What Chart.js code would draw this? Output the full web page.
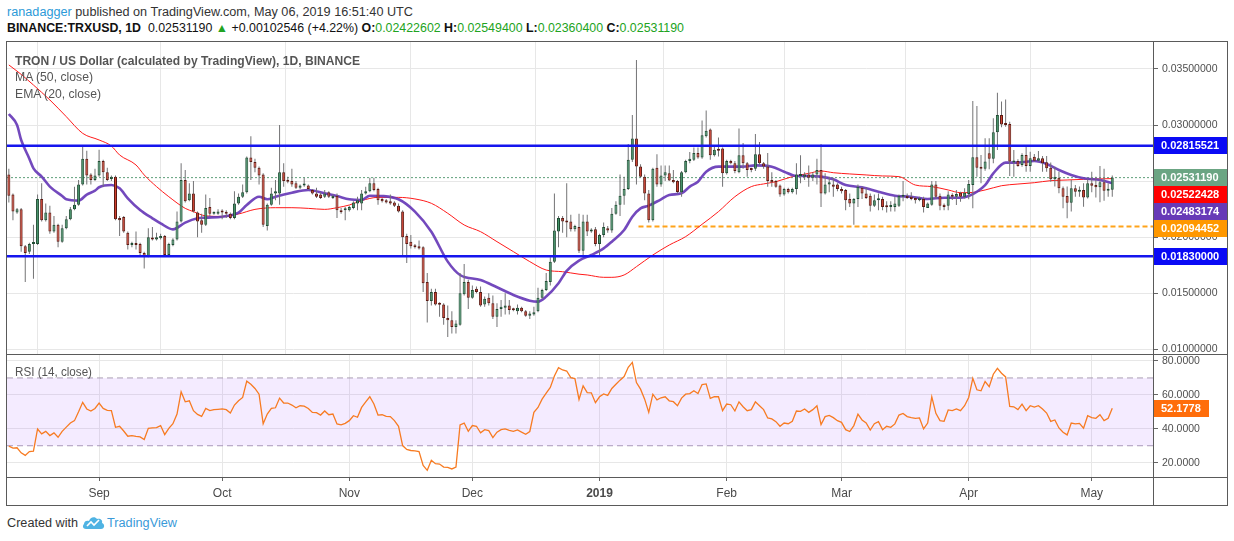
<!DOCTYPE html>
<html>
<head>
<meta charset="utf-8">
<script src="https://cdn.jsdelivr.net/npm/chart.js@4.4.0/dist/chart.umd.min.js"></script>
<style>
  html, body { margin: 0; padding: 0; background: #fff; }
  body { width: 1234px; height: 541px; position: relative; overflow: hidden; font-family: "Liberation Sans", Arial, sans-serif; }
  .txt { position: absolute; white-space: nowrap; display: inline-block; transform-origin: left center; }
  .line { position: absolute; background: #5a5a5a; }
  canvas { position: absolute; }
  .g { color: #21a321; }
</style>
</head>
<body>
<div id="hdr1" class="txt" style="left:7px; top:5px; font-size:12px; color:#333;"><span style="color:#2c9ad8">ranadagger</span> published on TradingView.com, May 06, 2019 16:51:40 UTC</div>
<div id="hdr2" class="txt" style="left:7px; top:21px; font-size:12px; color:#111;"><b>BINANCE:TRXUSD, 1D</b>&nbsp; 0.02531190 <span class="g">&#9650;</span> +0.00102546 (+4.22%) <b>O:</b><span class="g">0.02422602</span> <b>H:</b><span class="g">0.02549400</span> <b>L:</b><span class="g">0.02360400</span> <b>C:</b><span class="g">0.02531190</span></div>

<canvas id="price" width="1220" height="313" style="left:7px; top:41px;"></canvas>
<canvas id="rsi" width="1220" height="151" style="left:7px; top:354px;"></canvas>

<div id="lg1" class="txt" style="left:15px; top:53px; font-size:13px; font-weight:bold; color:#555;">TRON / US Dollar (calculated by TradingView), 1D, BINANCE</div>
<div id="lg2" class="txt" style="left:15px; top:70px; font-size:12px; color:#555;">MA (50, close)</div>
<div id="lg3" class="txt" style="left:15px; top:87px; font-size:12px; color:#555;">EMA (20, close)</div>
<div id="lg4" class="txt" style="left:15px; top:365px; font-size:12px; color:#555;">RSI (14, close)</div>

<div class="line" style="left:6px; top:41px; width:1222px; height:1px;"></div>
<div class="line" style="left:6px; top:354px; width:1222px; height:1px;"></div>
<div class="line" style="left:6px; top:477px; width:1222px; height:1px;"></div>
<div class="line" style="left:6px; top:505px; width:1222px; height:1px;"></div>
<div class="line" style="left:6px; top:41px; width:1px; height:465px;"></div>
<div class="line" style="left:1227px; top:41px; width:1px; height:465px;"></div>
<div class="line" style="left:1153px; top:41px; width:1px; height:465px;"></div>

<div id="made" class="txt" style="left:7px; top:516px; font-size:12px; color:#333;">Created with</div>
<svg style="position:absolute; left:82px; top:514px;" width="24" height="17" viewBox="0 0 24 17">
  <path d="M4 15 C1 15 0 12 2 10 C2 7 5 6 7 7 C8 3 13 2 15 5 C18 4 21 6 20 9 C23 10 23 15 19 15 Z" fill="#4fb3e3"/>
  <path d="M5 12 L9 8 L12 11 L17 6" stroke="#fff" stroke-width="1.6" fill="none"/>
</svg>
<div id="tvname" class="txt" style="left:107px; top:516px; font-size:12px; color:#3a9ad9;">TradingView</div>

<script>
// ---- data ----
// day index 0 = 2018-08-10, one candle per day up to 2019-05-06 (index 269)
const opens = [
  0.0256,0.0238,0.0222,0.0225,0.0192,0.0187,0.0194,0.0194,0.0234,0.0215,
  0.0222,0.0205,0.0211,0.0196,0.0208,0.0216,0.0225,0.0229,0.0247,0.0270,
  0.0256,0.0251,0.0255,0.0268,0.0258,0.0252,0.0254,0.0217,0.0218,0.0204,
  0.0193,0.0194,0.0194,0.0186,0.0183,0.0199,0.0198,0.0199,0.0201,0.0184,
  0.0193,0.0198,0.0214,0.0251,0.0233,0.0239,0.0222,0.0215,0.0211,0.0227,
  0.0221,0.0221,0.0223,0.0222,0.0221,0.0217,0.0230,0.0236,0.0240,0.0271,
  0.0267,0.0262,0.0256,0.0210,0.0229,0.0239,0.0239,0.0258,0.0251,0.0250,
  0.0248,0.0244,0.0246,0.0246,0.0242,0.0239,0.0238,0.0236,0.0240,0.0235,
  0.0237,0.0223,0.0224,0.0224,0.0226,0.0230,0.0230,0.0239,0.0241,0.0248,
  0.0243,0.0234,0.0233,0.0232,0.0231,0.0228,0.0223,0.0201,0.0196,0.0192,
  0.0192,0.0191,0.0160,0.0143,0.0151,0.0141,0.0140,0.0128,0.0126,0.0120,
  0.0122,0.0149,0.0160,0.0146,0.0154,0.0151,0.0140,0.0146,0.0141,0.0129,
  0.0136,0.0137,0.0139,0.0136,0.0134,0.0137,0.0134,0.0130,0.0131,0.0134,
  0.0146,0.0153,0.0160,0.0178,0.0205,0.0217,0.0214,0.0214,0.0207,0.0209,
  0.0188,0.0214,0.0205,0.0207,0.0194,0.0202,0.0208,0.0206,0.0221,0.0229,
  0.0237,0.0243,0.0269,0.0288,0.0263,0.0254,0.0239,0.0215,0.0262,0.0247,
  0.0255,0.0257,0.0251,0.0250,0.0240,0.0258,0.0268,0.0269,0.0275,0.0271,
  0.0290,0.0296,0.0273,0.0278,0.0279,0.0257,0.0268,0.0266,0.0258,0.0273,
  0.0266,0.02608,0.0261,0.0274,0.0266,0.0263,0.0251,0.0250,0.0246,0.0238,
  0.0243,0.0240,0.0243,0.02546,0.0254,0.0256,0.0253,0.0256,0.0260,0.0239,
  0.0247,0.0247,0.0247,0.0243,0.0242,0.0234,0.0230,0.0234,0.0244,0.0239,
  0.0237,0.0228,0.0233,0.0234,0.02278,0.0227,0.0227,0.0228,0.02361,0.0237,
  0.0236,0.0235,0.0233,0.0234,0.0226,0.0229,0.0247,0.0237,0.0229,0.0228,
  0.02376,0.02361,0.02397,0.02361,0.02385,0.02465,0.02712,0.02629,0.02611,0.02748,
  0.02700,0.02935,0.03090,0.03009,0.03009,0.02665,0.02679,0.02644,0.02733,0.02635,
  0.02718,0.02682,0.02703,0.02668,0.02620,0.02516,0.02531,0.02436,0.02367,0.02308,
  0.02436,0.02406,0.02421,0.02355,0.02480,0.02465,0.02445,0.02489,0.02415,0.02422602
];
const highs = [
  0.0261,0.0239,0.0226,0.0226,0.0193,0.0195,0.0211,0.0238,0.0248,0.0230,
  0.0228,0.0219,0.0212,0.0211,0.0219,0.0227,0.0245,0.0251,0.0281,0.0277,
  0.0257,0.0261,0.0278,0.0269,0.0262,0.0255,0.0255,0.0219,0.0219,0.0205,
  0.0196,0.0205,0.0195,0.0187,0.0208,0.0209,0.0204,0.0203,0.0202,0.0195,
  0.0199,0.0223,0.0266,0.0260,0.0248,0.0250,0.0223,0.0221,0.0238,0.0235,
  0.0223,0.0225,0.0225,0.0224,0.0222,0.0241,0.0239,0.0247,0.0272,0.0290,
  0.0270,0.0263,0.0257,0.0230,0.0244,0.0251,0.0300,0.0266,0.0254,0.0261,
  0.0250,0.0247,0.0253,0.0247,0.0243,0.0244,0.0240,0.0242,0.0241,0.0238,
  0.0239,0.0226,0.0227,0.0228,0.0232,0.0236,0.0242,0.0245,0.0253,0.0253,
  0.0244,0.0235,0.0234,0.0238,0.0232,0.0230,0.0224,0.0203,0.0202,0.0194,
  0.0197,0.0192,0.0168,0.0154,0.0154,0.0142,0.0141,0.0139,0.0134,0.0126,
  0.0168,0.0176,0.0162,0.0157,0.0156,0.0156,0.0147,0.0150,0.0148,0.0141,
  0.0144,0.0150,0.0144,0.0137,0.0140,0.0138,0.0135,0.0134,0.0138,0.0155,
  0.0154,0.0168,0.0182,0.0239,0.0219,0.0219,0.0248,0.0220,0.0211,0.0221,
  0.0220,0.0220,0.0208,0.0209,0.0203,0.0213,0.0210,0.0226,0.0232,0.0256,
  0.0254,0.0283,0.0309,0.0358,0.0265,0.0256,0.0242,0.0262,0.0274,0.0264,
  0.0264,0.0264,0.0260,0.0251,0.0259,0.0269,0.0276,0.0280,0.0280,0.0304,
  0.0313,0.0297,0.0282,0.0289,0.0280,0.0269,0.0269,0.0268,0.0297,0.0284,
  0.0267,0.0262,0.0292,0.0285,0.0267,0.0275,0.0258,0.0251,0.0247,0.0244,
  0.0244,0.0244,0.0266,0.0273,0.0258,0.0264,0.0258,0.0270,0.0283,0.0257,
  0.0254,0.0253,0.0248,0.0245,0.0243,0.0239,0.0235,0.0247,0.0245,0.0244,
  0.0239,0.0238,0.0239,0.0236,0.0232,0.0232,0.0236,0.0238,0.0250,0.0239,
  0.0240,0.0236,0.0236,0.0236,0.0231,0.0250,0.0250,0.0239,0.0230,0.0241,
  0.02391,0.02421,0.02406,0.02436,0.02510,0.03215,0.03170,0.02733,0.02882,0.02882,
  0.03060,0.03289,0.03209,0.03229,0.03030,0.02778,0.02694,0.02748,0.02807,0.02763,
  0.02742,0.02769,0.02724,0.02724,0.02665,0.02629,0.02584,0.02451,0.02451,0.02510,
  0.02465,0.02451,0.02480,0.02516,0.02584,0.02540,0.02635,0.02611,0.02480,0.02549400
];
const lows = [
  0.0231,0.0215,0.0221,0.0187,0.0160,0.0185,0.0163,0.0193,0.0214,0.0214,
  0.0203,0.0204,0.0191,0.0195,0.0207,0.0215,0.0224,0.0228,0.0246,0.0247,
  0.0247,0.0250,0.0254,0.0245,0.0250,0.0250,0.0215,0.0201,0.0204,0.0189,
  0.0191,0.0189,0.0183,0.0172,0.0182,0.0197,0.0197,0.0198,0.0183,0.0183,
  0.0192,0.0197,0.0213,0.0231,0.0232,0.0222,0.0200,0.0204,0.0210,0.0219,
  0.0220,0.0220,0.0216,0.0217,0.0216,0.0216,0.0229,0.0235,0.0239,0.0251,
  0.0258,0.0247,0.0209,0.0206,0.0228,0.0233,0.0229,0.0245,0.0248,0.0245,
  0.0243,0.0243,0.0245,0.0242,0.0238,0.0235,0.0234,0.0235,0.0235,0.0234,
  0.0217,0.0221,0.0215,0.0223,0.0225,0.0224,0.0224,0.0238,0.0240,0.0241,
  0.0229,0.0231,0.0230,0.0229,0.0227,0.0222,0.0183,0.0177,0.0190,0.0190,
  0.0189,0.0151,0.0124,0.0139,0.0139,0.0129,0.0122,0.0111,0.0114,0.0114,
  0.0121,0.0148,0.0136,0.0145,0.0150,0.0138,0.0138,0.0139,0.0127,0.0120,
  0.0129,0.0131,0.0131,0.0134,0.0131,0.0133,0.0129,0.0127,0.0130,0.0133,
  0.0145,0.0152,0.0157,0.0177,0.0191,0.0204,0.0200,0.0205,0.0205,0.0186,
  0.0182,0.0201,0.0204,0.0192,0.0183,0.0200,0.0204,0.0204,0.0220,0.0219,
  0.0229,0.0242,0.0267,0.0247,0.0253,0.0233,0.0213,0.0214,0.0245,0.0245,
  0.0250,0.0250,0.0248,0.0239,0.0236,0.0257,0.0266,0.0268,0.0270,0.0270,
  0.0289,0.0269,0.0272,0.0272,0.0245,0.0256,0.0265,0.0257,0.0257,0.0261,
  0.0254,0.0258,0.0259,0.0264,0.0261,0.0245,0.0245,0.0244,0.0236,0.0237,
  0.0239,0.0239,0.0238,0.0248,0.0251,0.0245,0.0250,0.0247,0.0227,0.0238,
  0.0240,0.0236,0.0241,0.0239,0.0224,0.0227,0.0211,0.0227,0.0234,0.0234,
  0.0223,0.0227,0.0224,0.0224,0.0222,0.0223,0.0223,0.0227,0.0232,0.0234,
  0.0233,0.0230,0.0232,0.0222,0.0226,0.0228,0.0234,0.0224,0.0224,0.0224,
  0.02332,0.02287,0.02317,0.02346,0.02338,0.02257,0.02540,0.02480,0.02593,0.02605,
  0.02659,0.02778,0.02980,0.02986,0.02546,0.02540,0.02629,0.02629,0.02584,0.02584,
  0.02674,0.02674,0.02584,0.02584,0.02495,0.02451,0.02391,0.02257,0.02168,0.02228,
  0.02361,0.02361,0.02272,0.02346,0.02400,0.02355,0.02311,0.02326,0.02361,0.02360400
];
const closes = [
  0.0237,0.0223,0.0225,0.0192,0.0186,0.0194,0.0195,0.0234,0.0215,0.0222,
  0.0205,0.0211,0.0196,0.0208,0.0216,0.0225,0.0229,0.0247,0.0270,0.0255,
  0.0251,0.0255,0.0268,0.0258,0.0251,0.0254,0.0216,0.0215,0.0205,0.0193,
  0.0194,0.0193,0.0186,0.0183,0.0200,0.0198,0.0200,0.0201,0.0184,0.0194,
  0.0198,0.0214,0.0251,0.0232,0.0239,0.0223,0.0214,0.0211,0.0226,0.0221,
  0.0222,0.0223,0.0222,0.0221,0.0217,0.0230,0.0236,0.0240,0.0271,0.0267,
  0.0262,0.0255,0.0211,0.0229,0.0239,0.0241,0.0258,0.0250,0.02495,0.0247,
  0.0244,0.0246,0.0247,0.0243,0.0239,0.0236,0.0235,0.0239,0.0236,0.0237,
  0.0224,0.02222,0.0225,0.0227,0.0231,0.0233,0.0239,0.0241,0.0248,0.0242,
  0.0233,0.0232,0.0231,0.0230,0.0228,0.0223,0.0200,0.0194,0.0192,0.0191,
  0.0190,0.0159,0.0143,0.0151,0.0140,0.01398,0.0128,0.0126,0.0120,0.0123,
  0.0150,0.0160,0.0146,0.0153,0.0151,0.0139,0.0145,0.0141,0.0129,0.0136,
  0.0138,0.0139,0.0135,0.01348,0.0137,0.0134,0.0130,0.0132,0.0133,0.0146,
  0.0153,0.0161,0.0178,0.0206,0.0217,0.0214,0.0213,0.0207,0.0210,0.0188,
  0.0214,0.0205,0.0206,0.0194,0.0202,0.0209,0.0206,0.0221,0.0229,0.0237,
  0.0243,0.0269,0.0288,0.0263,0.0254,0.0239,0.0215,0.0261,0.0247,0.0255,
  0.0258,0.02505,0.0249,0.02402,0.0258,0.0268,0.0270,0.0275,0.0271,0.0291,
  0.0295,0.0273,0.0278,0.0277,0.0257,0.0268,0.0266,0.0259,0.0273,0.0266,
  0.0260,0.02600,0.0274,0.0266,0.0263,0.0250,0.0249,0.0245,0.0238,0.0243,
  0.0240,0.0243,0.0256,0.02558,0.0256,0.0253,0.0256,0.0260,0.0239,0.0247,
  0.0249,0.0245,0.0243,0.0241,0.0233,0.0230,0.0234,0.0245,0.0239,0.0235,
  0.0228,0.0233,0.0234,0.0227,0.02266,0.0228,0.0230,0.0237,0.0237,0.0235,
  0.0234,0.0233,0.0234,0.0227,0.0230,0.0247,0.0236,0.0228,0.0227,0.0238,
  0.02361,0.02385,0.02361,0.02397,0.02474,0.02712,0.02620,0.02611,0.02674,0.02700,
  0.02935,0.03090,0.03006,0.03001,0.02674,0.02679,0.02635,0.02733,0.02635,0.02703,
  0.02682,0.02703,0.02659,0.02614,0.02516,0.02540,0.02436,0.02361,0.02308,0.02436,
  0.02406,0.02421,0.02355,0.02480,0.02459,0.02445,0.02489,0.02415,0.02429,0.02531190
];

// MA (50) and EMA (20) at these day indices
const maDays = [0,3,6,10,14,18,22,25,27,31,33,36,39,43,45,48,52,56,60,65,69,73,77,80,83,86,90,95,99,103,
  107,111,115,119,123,127,131,135,139,141,145,147,150,153,157,161,165,169,173,177,181,184,187,191,195,198,201,205,209,213,
  217,221,225,229,232,234,238,242,246,250,254,258,262,266,269];
const maValues = [0.03536,0.03452,0.03357,0.03224,0.03075,0.02926,0.02867,0.02813,0.02733,0.02644,
  0.02555,0.02451,0.02361,0.02257,0.02228,0.02190,0.02185,0.02207,0.02248,0.02263,
  0.02263,0.02257,0.02248,0.02263,0.02287,0.02326,0.02355,0.02355,0.02341,0.02302,
  0.02213,0.02109,0.02049,0.01960,0.01871,0.01782,0.01707,0.01692,0.01670,0.01663,
  0.01642,0.01642,0.01663,0.01737,0.01841,0.01930,0.02005,0.02115,0.02228,0.02361,
  0.02451,0.02475,0.02495,0.02540,0.02569,0.02590,0.02575,0.02564,0.02555,0.02546,
  0.02540,0.02465,0.02451,0.02421,0.02397,0.02397,0.02421,0.02459,0.02474,0.02486,
  0.02504,0.02510,0.02516,0.02520,0.02522428];
const emaDays = [0,2,3,5,6,8,10,13,14,17,19,21,22,25,27,29,32,35,37,40,43,46,48,52,56,58,61,63,65,69,
  73,77,80,83,86,88,91,95,99,103,107,110,115,119,123,127,129,131,134,136,139,142,145,147,150,152,154,156,159,161,
  164,166,168,170,173,176,179,182,186,189,192,195,198,201,204,208,212,216,220,224,228,232,234,238,240,243,246,250,253,256,
  259,262,266,269];
const emaValues = [0.03099,0.03000,0.02867,0.02700,0.02614,0.02540,0.02451,0.02367,0.02338,0.02326,
  0.02380,0.02415,0.02445,0.02465,0.02436,0.02346,0.02242,0.02168,0.02123,0.02070,
  0.02130,0.02168,0.02174,0.02183,0.02219,0.02287,0.02361,0.02338,0.02361,0.02397,
  0.02421,0.02391,0.02367,0.02338,0.02332,0.02370,0.02367,0.02338,0.02228,0.02049,
  0.01782,0.01663,0.01618,0.01553,0.01485,0.01434,0.01425,0.01470,0.01589,0.01700,
  0.01791,0.01841,0.01900,0.01960,0.02064,0.02183,0.02257,0.02281,0.02338,0.02376,
  0.02391,0.02451,0.02495,0.02584,0.02629,0.02629,0.02629,0.02640,0.02629,0.02584,
  0.02546,0.02546,0.02540,0.02516,0.02465,0.02445,0.02406,0.02370,0.02361,0.02341,
  0.02352,0.02352,0.02367,0.02465,0.02569,0.02665,0.02665,0.02679,0.02653,0.02599,
  0.02555,0.02525,0.02510,0.02483174];

// RSI (14), one value per candle
const rsiValues = [
  29.8,28.6,28.8,25.8,24.3,26.6,26.8,39.9,37.0,38.5,
  36.0,37.6,35.0,38.5,41.0,43.4,44.8,50.0,55.6,51.7,
  50.5,52.0,55.2,52.0,50.9,50.7,40.9,41.5,38.7,35.6,
  36.0,35.5,35.2,33.7,40.3,40.5,40.7,41.9,36.6,40.3,
  43.0,48.7,61.8,55.9,56.5,50.7,48.5,47.3,52.0,50.7,
  51.3,51.5,51.7,51.3,49.3,54.0,56.5,58.5,68.1,66.3,
  63.8,60.4,43.0,48.7,52.0,52.4,58.1,55.2,55.2,54.0,
  52.4,53.6,53.4,52.0,49.7,49.5,48.1,50.5,48.3,48.7,
  42.9,42.3,43.2,44.8,47.7,46.8,52.6,55.9,58.9,54.6,
  48.1,48.3,47.3,47.2,44.8,41.5,30.1,27.8,27.2,27.0,
  26.6,18.4,15.5,21.4,19.4,19.2,17.4,17.2,16.3,17.4,
  42.3,43.4,38.5,41.9,41.5,37.6,39.5,38.9,34.8,38.0,
  39.5,39.9,39.1,38.5,39.3,38.0,36.8,38.4,49.7,52.6,
  57.5,61.0,64.4,71.2,76.1,74.7,74.1,70.2,69.6,57.3,
  65.3,61.4,61.2,55.4,58.9,60.6,59.7,63.8,66.3,68.7,
  70.8,76.3,79.2,67.3,63.4,57.5,49.7,60.4,57.1,58.3,
  58.9,56.5,56.0,53.6,58.1,60.4,60.8,62.4,60.8,66.1,
  66.5,57.9,58.9,58.9,50.7,54.6,54.2,50.5,55.9,53.0,
  50.7,51.3,55.9,53.6,51.3,46.4,45.8,44.2,41.5,43.4,
  43.0,44.4,50.5,50.3,51.7,49.7,51.3,53.6,42.5,47.2,
  47.9,46.6,44.8,43.8,39.5,38.4,41.9,48.7,45.2,43.4,
  39.3,43.0,44.2,39.5,41.5,40.9,42.9,48.1,49.1,47.2,
  46.6,46.2,46.4,39.9,43.4,58.9,49.1,44.8,44.4,51.1,
  50.7,51.7,50.7,53.6,58.5,69.8,63.0,62.4,67.9,64.9,
  72.2,75.7,72.8,70.6,53.2,53.0,51.3,54.6,50.7,53.6,
  52.8,53.6,51.7,49.3,44.4,45.2,40.5,38.0,36.4,43.4,
  42.9,43.2,40.3,47.7,46.6,46.2,48.3,44.8,46.2,52.1778
];

const resistanceLevel = 0.02815521;
const supportLevel = 0.01830000;
const dashedLevel = 0.02094452;
const dashedFromDay = 153.5;
const rsiUpper = 70;
const rsiLower = 30;

const monthDays = [22, 52, 83, 113, 144, 175, 203, 234, 264];
const monthLabels = ['Sep', 'Oct', 'Nov', 'Dec', '2019', 'Feb', 'Mar', 'Apr', 'May'];
const priceTicks = [0.010, 0.015, 0.020, 0.025, 0.030, 0.035];
const rsiTicks = [20, 40, 60, 80];

// ---- view / style ----
const X_MIN = -0.45, X_MAX = 278.93;
const PRICE_MIN = 0.009581, PRICE_MAX = 0.037497;
const RSI_MIN = 11.56, RSI_MAX = 84.13;
const AXIS_W = 74;
const UP = '#45946a', UP_BORDER = '#1f4d33';
const DOWN = '#d13f2e', DOWN_BORDER = '#5b1a13';
const WICK = '#737375';
const GRID = '#e7e7e7';
const TICK_TEXT = '#4f4f4f';
const TICK_FONT = { family: '"Liberation Sans", Arial, sans-serif', size: 10.5 };
const LEVEL_BLUE = '#1515ee';
const RSI_COLOR = '#f77b22';

const last = closes.length - 1;
const isUp = closes.map((c, i) => c >= opens[i]);
const hLine = (y, from = X_MIN, to = X_MAX) => [{ x: from, y }, { x: to, y }];

const tagsPlugin = {
  id: 'axisTags',
  afterDraw(chart, args, opts) {
    const { ctx, chartArea } = chart;
    const yScale = chart.scales.y;
    const h = 17;
    const tags = opts.tags
      .map(t => ({ ...t, py: yScale.getPixelForValue(t.value) }))
      .sort((a, b) => a.py - b.py);
    let prevBottom = -1e9;
    ctx.save();
    ctx.font = 'bold 11px "Liberation Sans", Arial, sans-serif';
    ctx.textBaseline = 'middle';
    tags.forEach(t => {
      let top = Math.round(t.py - h / 2);
      if (top < prevBottom) top = prevBottom;
      prevBottom = top + h;
      ctx.fillStyle = t.color;
      ctx.fillRect(chartArea.right + 1, top, t.width, h);
      ctx.fillStyle = '#fff';
      ctx.fillText(t.text, chartArea.right + 8, top + h / 2 + 0.5);
    });
    ctx.restore();
  }
};

const xScaleBase = {
  type: 'linear',
  min: X_MIN,
  max: X_MAX,
  offset: false,
  afterBuildTicks: s => { s.ticks = monthDays.map(v => ({ value: v })); },
  grid: { color: GRID, lineWidth: 1 },
  border: { display: false }
};

new Chart(document.getElementById('price'), {
  type: 'bar',
  data: {
    datasets: [
      { type: 'line', data: hLine(resistanceLevel), borderColor: LEVEL_BLUE, borderWidth: 2.6, pointRadius: 0, order: 0 },
      { type: 'line', data: hLine(supportLevel), borderColor: LEVEL_BLUE, borderWidth: 2.6, pointRadius: 0, order: 0 },
      {
        type: 'bar',
        data: closes.map((c, i) => ({ x: i, y: [Math.min(opens[i], c), Math.max(opens[i], c)] })),
        backgroundColor: isUp.map(u => u ? UP : DOWN),
        borderColor: isUp.map(u => u ? UP_BORDER : DOWN_BORDER),
        borderWidth: 1,
        borderSkipped: false,
        barThickness: 3,
        minBarLength: 2,
        inflateAmount: 0,
        grouped: false,
        order: 1
      },
      {
        type: 'bar',
        data: closes.map((c, i) => ({ x: i, y: [lows[i], highs[i]] })),
        backgroundColor: WICK,
        barThickness: 1,
        inflateAmount: 0,
        grouped: false,
        order: 2
      },
      {
        type: 'line',
        data: emaDays.map((d, i) => ({ x: d, y: emaValues[i] })),
        borderColor: 'rgba(103, 58, 183, 0.92)',
        borderWidth: 2.6,
        pointRadius: 0,
        cubicInterpolationMode: 'monotone',
        order: 3
      },
      {
        type: 'line',
        data: maDays.map((d, i) => ({ x: d, y: maValues[i] })),
        borderColor: '#ff1a1a',
        borderWidth: 1,
        pointRadius: 0,
        cubicInterpolationMode: 'monotone',
        order: 4
      },
      { type: 'line', data: hLine(dashedLevel, dashedFromDay), borderColor: '#ffa31a', borderDash: [5, 3], borderWidth: 2, pointRadius: 0, order: 5 },
      { type: 'line', data: hLine(closes[last]), borderColor: '#5f9f7a', borderDash: [2, 2], borderWidth: 1, pointRadius: 0, order: 6 }
    ]
  },
  options: {
    responsive: false,
    animation: false,
    layout: { padding: 0, autoPadding: false },
    plugins: {
      legend: { display: false },
      tooltip: { enabled: false },
      axisTags: {
        tags: [
          { value: resistanceLevel, text: resistanceLevel.toFixed(8), color: '#0a0af5', width: 73 },
          { value: closes[last], text: closes[last].toFixed(8), color: '#6ba583', width: 73 },
          { value: maValues[maValues.length - 1], text: maValues[maValues.length - 1].toFixed(8), color: '#ff0000', width: 73 },
          { value: emaValues[emaValues.length - 1], text: emaValues[emaValues.length - 1].toFixed(8), color: '#673ab7', width: 73 },
          { value: dashedLevel, text: dashedLevel.toFixed(8), color: '#ff9800', width: 73 },
          { value: supportLevel, text: supportLevel.toFixed(8), color: '#0a0af5', width: 73 }
        ]
      }
    },
    scales: {
      x: {
        ...xScaleBase,
        ticks: { display: false },
        grid: { color: GRID, drawTicks: false },
        afterFit: s => { s.height = 0; s.paddingLeft = 0; s.paddingRight = 0; }
      },
      y: {
        type: 'linear',
        position: 'right',
        min: PRICE_MIN,
        max: PRICE_MAX,
        afterBuildTicks: s => { s.ticks = priceTicks.map(v => ({ value: v })); },
        ticks: { callback: v => Number(v).toFixed(8), color: TICK_TEXT, font: TICK_FONT, padding: 4 },
        grid: { color: GRID, tickLength: 5, tickColor: '#666' },
        border: { display: false },
        afterFit: s => { s.width = AXIS_W; s.paddingTop = 0; s.paddingBottom = 0; }
      }
    }
  },
  plugins: [tagsPlugin]
});

new Chart(document.getElementById('rsi'), {
  type: 'line',
  data: {
    datasets: [
      { data: rsiValues.map((v, i) => ({ x: i, y: v })), borderColor: RSI_COLOR, borderWidth: 1.3, pointRadius: 0, order: 0 },
      { data: hLine(rsiLower), borderColor: '#a99db3', borderDash: [6, 4], borderWidth: 1, pointRadius: 0, order: 2 },
      { data: hLine(rsiUpper), borderColor: '#a99db3', borderDash: [6, 4], borderWidth: 1, pointRadius: 0, order: 1,
        fill: '-1', backgroundColor: 'rgba(170, 100, 255, 0.13)' }
    ]
  },
  options: {
    responsive: false,
    animation: false,
    layout: { padding: 0, autoPadding: false },
    plugins: {
      legend: { display: false },
      tooltip: { enabled: false },
      axisTags: {
        tags: [{ value: rsiValues[last], text: rsiValues[last].toFixed(4), color: '#ff6d0a', width: 55 }]
      }
    },
    scales: {
      x: {
        ...xScaleBase,
        ticks: {
          callback: v => monthLabels[monthDays.indexOf(v)],
          color: '#4a4a4a',
          autoSkip: false,
          maxRotation: 0,
          padding: 5,
          font: c => ({ family: '"Liberation Sans", Arial, sans-serif', size: 12,
            weight: (c.tick && c.tick.value === 144) ? 'bold' : 'normal' })
        },
        grid: { color: GRID, tickLength: 4, tickColor: '#666' },
        afterFit: s => { s.height = 28; s.paddingLeft = 0; s.paddingRight = 0; }
      },
      y: {
        type: 'linear',
        position: 'right',
        min: RSI_MIN,
        max: RSI_MAX,
        afterBuildTicks: s => { s.ticks = rsiTicks.map(v => ({ value: v })); },
        ticks: { callback: v => Number(v).toFixed(4), color: TICK_TEXT, font: TICK_FONT, padding: 4 },
        grid: { color: GRID, tickLength: 5, tickColor: '#666' },
        border: { display: false },
        afterFit: s => { s.width = AXIS_W; s.paddingTop = 0; s.paddingBottom = 0; }
      }
    }
  },
  plugins: [tagsPlugin]
});

// match the text run lengths of the original screenshot
function fitWidth(id, target) {
  const el = document.getElementById(id);
  const w = el.getBoundingClientRect().width;
  if (w > 0) el.style.transform = 'scaleX(' + (target / w) + ')';
}
fitWidth('hdr1', 406);
fitWidth('hdr2', 677);
fitWidth('lg1', 345);
fitWidth('lg2', 78);
fitWidth('lg3', 86);
fitWidth('lg4', 77);
fitWidth('made', 71);
fitWidth('tvname', 70);
</script>
</body>
</html>
